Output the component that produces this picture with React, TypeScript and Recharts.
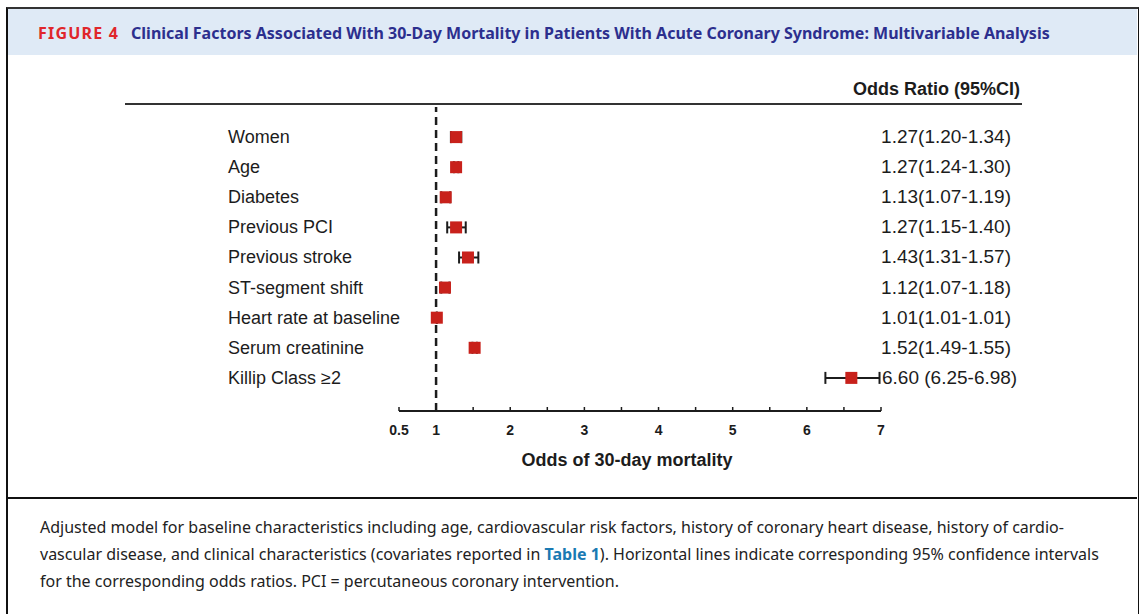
import React from "react";
import {
  ScatterChart,
  Scatter,
  XAxis,
  YAxis,
  ErrorBar,
  ReferenceLine,
} from "recharts";

const categories = [
  "Women",
  "Age",
  "Diabetes",
  "Previous PCI",
  "Previous stroke",
  "ST-segment shift",
  "Heart rate at baseline",
  "Serum creatinine",
  "Killip Class \u22652",
];
const oddsRatios = [1.27, 1.27, 1.13, 1.27, 1.43, 1.12, 1.01, 1.52, 6.6];
const ciLow = [1.2, 1.24, 1.07, 1.15, 1.31, 1.07, 1.01, 1.49, 6.25];
const ciHigh = [1.34, 1.3, 1.19, 1.4, 1.57, 1.18, 1.01, 1.55, 6.98];
const orLabels = [
  "1.27(1.20-1.34)",
  "1.27(1.24-1.30)",
  "1.13(1.07-1.19)",
  "1.27(1.15-1.40)",
  "1.43(1.31-1.57)",
  "1.12(1.07-1.18)",
  "1.01(1.01-1.01)",
  "1.52(1.49-1.55)",
  "6.60 (6.25-6.98)",
];
const xTicks = [0.5, 1, 1.5, 2, 2.5, 3, 3.5, 4, 4.5, 5, 5.5, 6, 6.5, 7];
const xTickLabels = ["0.5", "1", "", "2", "", "3", "", "4", "", "5", "", "6", "", "7"];

const data = categories.map((name, i) => ({
  name,
  row: i,
  or: oddsRatios[i],
  err: [oddsRatios[i] - ciLow[i], ciHigh[i] - oddsRatios[i]],
}));

const FONT = '"Liberation Sans", Arial, sans-serif';
const INK = "#1c1c1c";

const XTick = (props: any) => {
  const { x, y, index } = props;
  const label = xTickLabels[index] ?? "";
  return (
    <g>
      <line x1={x} x2={x} y1={y - 4} y2={y} stroke={INK} strokeWidth={1.5} />
      {label && (
        <text
          x={x}
          y={y + 24}
          textAnchor="middle"
          fontFamily={FONT}
          fontWeight="bold"
          fontSize={14}
          fill={INK}
        >
          {label}
        </text>
      )}
    </g>
  );
};

const YTick = (props: any) => {
  const { y, payload } = props;
  const i = payload.value;
  // the last row's CI runs into the text column, so its text starts after the bar
  const pastBar = i === categories.length - 1;
  return (
    <g>
      <text x={228} y={y + 6} fontFamily={FONT} fontSize={18} fill={INK}>
        {categories[i]}
      </text>
      <text
        x={pastBar ? 882 : 1011}
        y={y + 6}
        textAnchor={pastBar ? "start" : "end"}
        fontFamily={FONT}
        fontSize={19}
        fill={INK}
      >
        {orLabels[i]}
      </text>
    </g>
  );
};

const Square = (props: any) => {
  const { cx, cy } = props;
  return <rect x={cx - 6} y={cy - 6} width={12} height={12} fill="#c8211b" />;
};

export default function App() {
  return (
    <div
      style={{
        position: "absolute",
        left: 0,
        top: 0,
        width: 1142,
        height: 614,
        background: "#fff",
        overflow: "hidden",
      }}
    >
      {/* frame */}
      <div
        style={{
          position: "absolute",
          left: 6,
          top: 7,
          width: 1130,
          height: 640,
          borderLeft: "2.5px solid #111",
          borderTop: "2px solid #333",
          borderRight: "1.5px solid #111",
        }}
      />
      <div
        style={{
          position: "absolute",
          left: 8,
          top: 9,
          width: 1129,
          height: 46,
          background: "#dfeaf6",
        }}
      />
      <div
        style={{
          position: "absolute",
          left: 38,
          top: 21,
          whiteSpace: "nowrap",
          fontFamily: '"Noto Sans", sans-serif',
          fontWeight: "bold",
          fontSize: 16,
          lineHeight: "24px",
        }}
      >
        <span style={{ color: "#e0262b", letterSpacing: 1.2 }}>FIGURE 4</span>
        <span style={{ color: "#2c2f8e", marginLeft: 12 }}>
          Clinical Factors Associated With 30-Day Mortality in Patients With Acute
          Coronary Syndrome: Multivariable Analysis
        </span>
      </div>

      <div style={{ position: "absolute", left: 0, top: 0 }}>
        <ScatterChart
          width={1142}
          height={614}
          margin={{ top: 107, right: 261, bottom: 143, left: 209 }}
        >
          <XAxis
            type="number"
            dataKey="or"
            domain={[0.5, 7]}
            ticks={xTicks}
            interval={0}
            tickSize={0}
            tickMargin={0}
            tick={<XTick />}
            height={60}
            axisLine={{ stroke: INK, strokeWidth: 2 }}
            label={{
              value: "Odds of 30-day mortality",
              position: "insideBottom",
              offset: 5,
              dx: -13,
              fill: INK,
              fontSize: 18,
              fontWeight: "bold",
              fontFamily: FONT,
            }}
          />
          <YAxis
            type="number"
            dataKey="row"
            domain={[-1, 9.1]}
            reversed
            ticks={[0, 1, 2, 3, 4, 5, 6, 7, 8]}
            interval={0}
            width={190}
            axisLine={false}
            tickLine={false}
            tick={<YTick />}
          />
          <ReferenceLine
            x={1}
            stroke={INK}
            strokeWidth={2.5}
            strokeDasharray="8 5"
          />
          <Scatter data={data} shape={<Square />} isAnimationActive={false}>
            <ErrorBar
              dataKey="err"
              direction="x"
              width={6}
              stroke={INK}
              strokeWidth={2}
              isAnimationActive={false}
            />
          </Scatter>
        </ScatterChart>
      </div>

      {/* column header */}
      <div
        style={{
          position: "absolute",
          left: 800,
          width: 220,
          top: 77,
          textAlign: "right",
          fontFamily: FONT,
          fontWeight: "bold",
          fontSize: 18,
          lineHeight: "24px",
          color: INK,
          whiteSpace: "nowrap",
        }}
      >
        Odds Ratio (95%CI)
      </div>
      <div
        style={{
          position: "absolute",
          left: 125,
          top: 103,
          width: 897,
          height: 2,
          background: "#333",
        }}
      />

      {/* caption */}
      <div
        style={{
          position: "absolute",
          left: 8,
          top: 497,
          width: 1129,
          height: 2,
          background: "#111",
        }}
      />
      <div
        style={{
          position: "absolute",
          left: 40,
          top: 514,
          fontFamily: '"Noto Sans", sans-serif',
          fontSize: 16,
          lineHeight: "27px",
          color: "#222",
          whiteSpace: "nowrap",
        }}
      >
        <div>
          Adjusted model for baseline characteristics including age, cardiovascular
          risk factors, history of coronary heart disease, history of cardio-
        </div>
        <div>
          vascular disease, and clinical characteristics (covariates reported in{" "}
          <span style={{ color: "#1a7ab3", fontWeight: "bold" }}>Table 1</span>).
          Horizontal lines indicate corresponding 95% confidence intervals
        </div>
        <div>
          for the corresponding odds ratios. PCI = percutaneous coronary
          intervention.
        </div>
      </div>
    </div>
  );
}
